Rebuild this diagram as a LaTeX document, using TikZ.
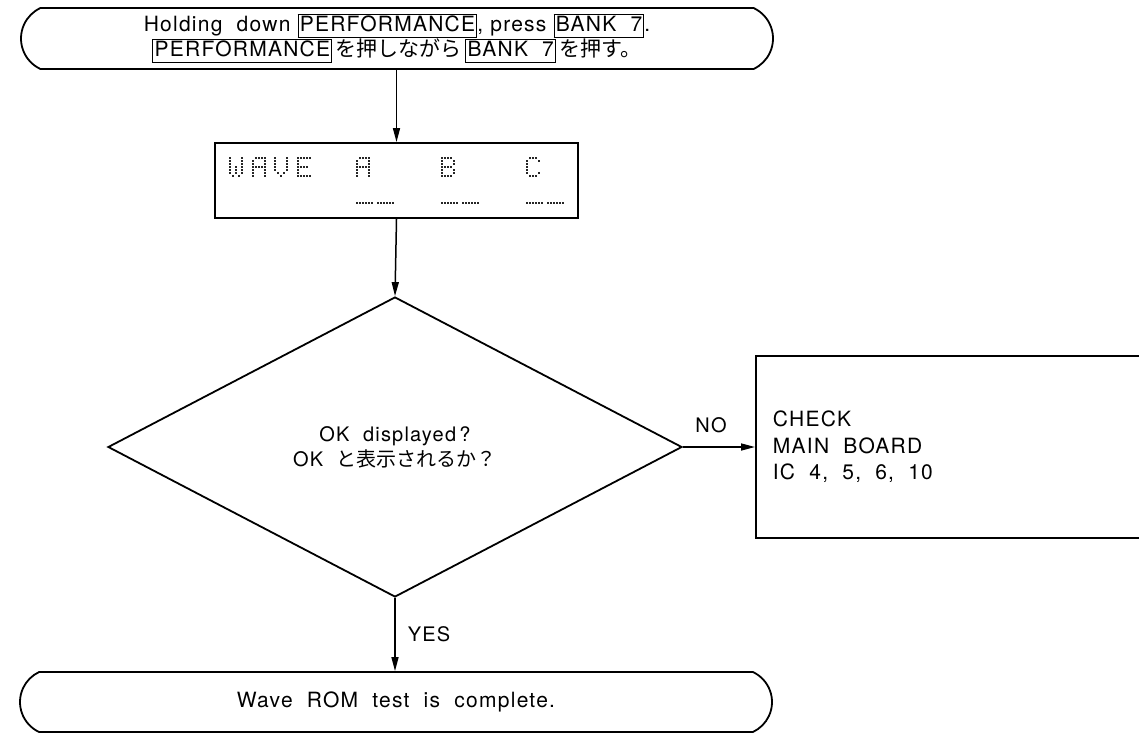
\documentclass[tikz,border=0pt]{standalone}
\usepackage{fontspec}
\setmainfont[LetterSpace=6]{TeX Gyre Heros}
\newfontfamily\jpfont{Noto Sans CJK JP}
\usetikzlibrary{shapes.misc,shapes.geometric,arrows.meta}
\newcommand\ja[1]{{\jpfont #1}}
\newcommand\keyb[1]{{\setlength\fboxsep{1.2pt}\setlength\fboxrule{1pt}\fbox{\vphantom{Ag}#1}}}
\newcommand\dm[3]{%
  \foreach \rr [count=\ri from 0] in {#3} {%
    \foreach \cc in \rr {%
      \fill[dotc] ({#1+3*\cc-1},{#2+3*\ri-1}) rectangle ++(2,2);
    }%
  }%
}
\newcommand\dl[2]{%
  \foreach \k in {0,...,5} {%
    \fill[dotc] ({#1+3*\k-1},{#2-0.9}) rectangle ++(2,1.8);
    \fill[dotc] ({#1+21+3*\k-1},{#2-0.9}) rectangle ++(2,1.8);
  }%
}
\begin{document}
\begin{tikzpicture}[x=1pt,y=-1pt,line width=1.8pt,
  dotc/.style={black!85},
  txt/.style={font=\fontsize{21}{25}\selectfont},
  term/.style={draw, rounded rectangle, rounded rectangle arc length=130,
    minimum width=752pt, minimum height=61pt, inner sep=0pt, txt, align=center},
  box/.style={draw, inner sep=0pt},
  dec/.style={draw, diamond, minimum width=574pt, minimum height=300pt, inner sep=0pt,
    font=\fontsize{20}{25}\selectfont, align=center},
  arr/.style={line width=1.5pt, -{Triangle[length=14pt,width=7pt]}},
  lab/.style={font=\fontsize{20}{24}\selectfont}
]
\useasboundingbox (0,0) rectangle (1139,734);
\clip (0,0) rectangle (1139,734);

\node[term] (start) at (397,38.5) {Holding\ \ down \keyb{PERFORMANCE}, press \keyb{BANK\ \ 7}.\\
  \keyb{PERFORMANCE}\,\ja{を押しながら}\,\keyb{BANK\ \ 7}\,\ja{を押す。}};

\node[box, minimum width=363pt, minimum height=75pt] (disp) at (396.5,180.5) {};
% dot-matrix display text
\dm{230}{158}{{0,4},{0,4},{0,4},{0,2,4},{0,2,4},{0,2,4},{1,3}}
\dm{252.5}{158}{{1,2,3,4},{0,4},{0,4},{0,1,2,3,4},{0,4},{0,4},{0,4}}
\dm{275}{158}{{0,4},{0,4},{0,4},{0,4},{0,4},{1,3},{2}}
\dm{297.5}{158}{{0,1,2,3,4},{0},{0},{0,1,2,3},{0},{0},{0,1,2,3,4}}
\dm{357}{158}{{1,2,3,4},{0,4},{0,4},{0,1,2,3,4},{0,4},{0,4},{0,4}}
\dm{442}{158}{{0,1,2,3},{0,4},{0,4},{0,1,2,3},{0,4},{0,4},{0,1,2,3}}
\dm{527}{158}{{1,2,3},{0,4},{0},{0},{0},{0,4},{1,2,3}}
\dl{357}{203}
\dl{442}{203}
\dl{527}{203}

\node[dec] (q) at (395,447) {OK\ \ displayed\,?\\OK\ \ \ja{と表示されるか？}};

\node[box, anchor=north west, minimum width=420pt, minimum height=182pt] (chk) at (755,355) {};
\node[anchor=west, align=left, inner sep=0pt, font=\fontsize{21}{26.5}\selectfont] (chktxt) at (772,447) {CHECK\\MAIN\ \ BOARD\\IC\ \ 4,\ \ 5,\ \ 6,\ \ 10};

\node[term, minimum height=60pt] (end) at (396,702) {Wave\ \ ROM\ \ test\ \ is\ \ complete.};

\draw[arr] (start.south -| disp.north) -- (disp.north);
\draw[arr] (disp.south) -- (q.north);
\draw[arr] (q.east) -- (q.east -| chk.west);
\draw[arr] (q.south) -- (q.south |- end.north);

\node[lab] (no) at (711,425) {NO};
\node[lab] (yes) at (429,634) {YES};
\end{tikzpicture}
\end{document}
